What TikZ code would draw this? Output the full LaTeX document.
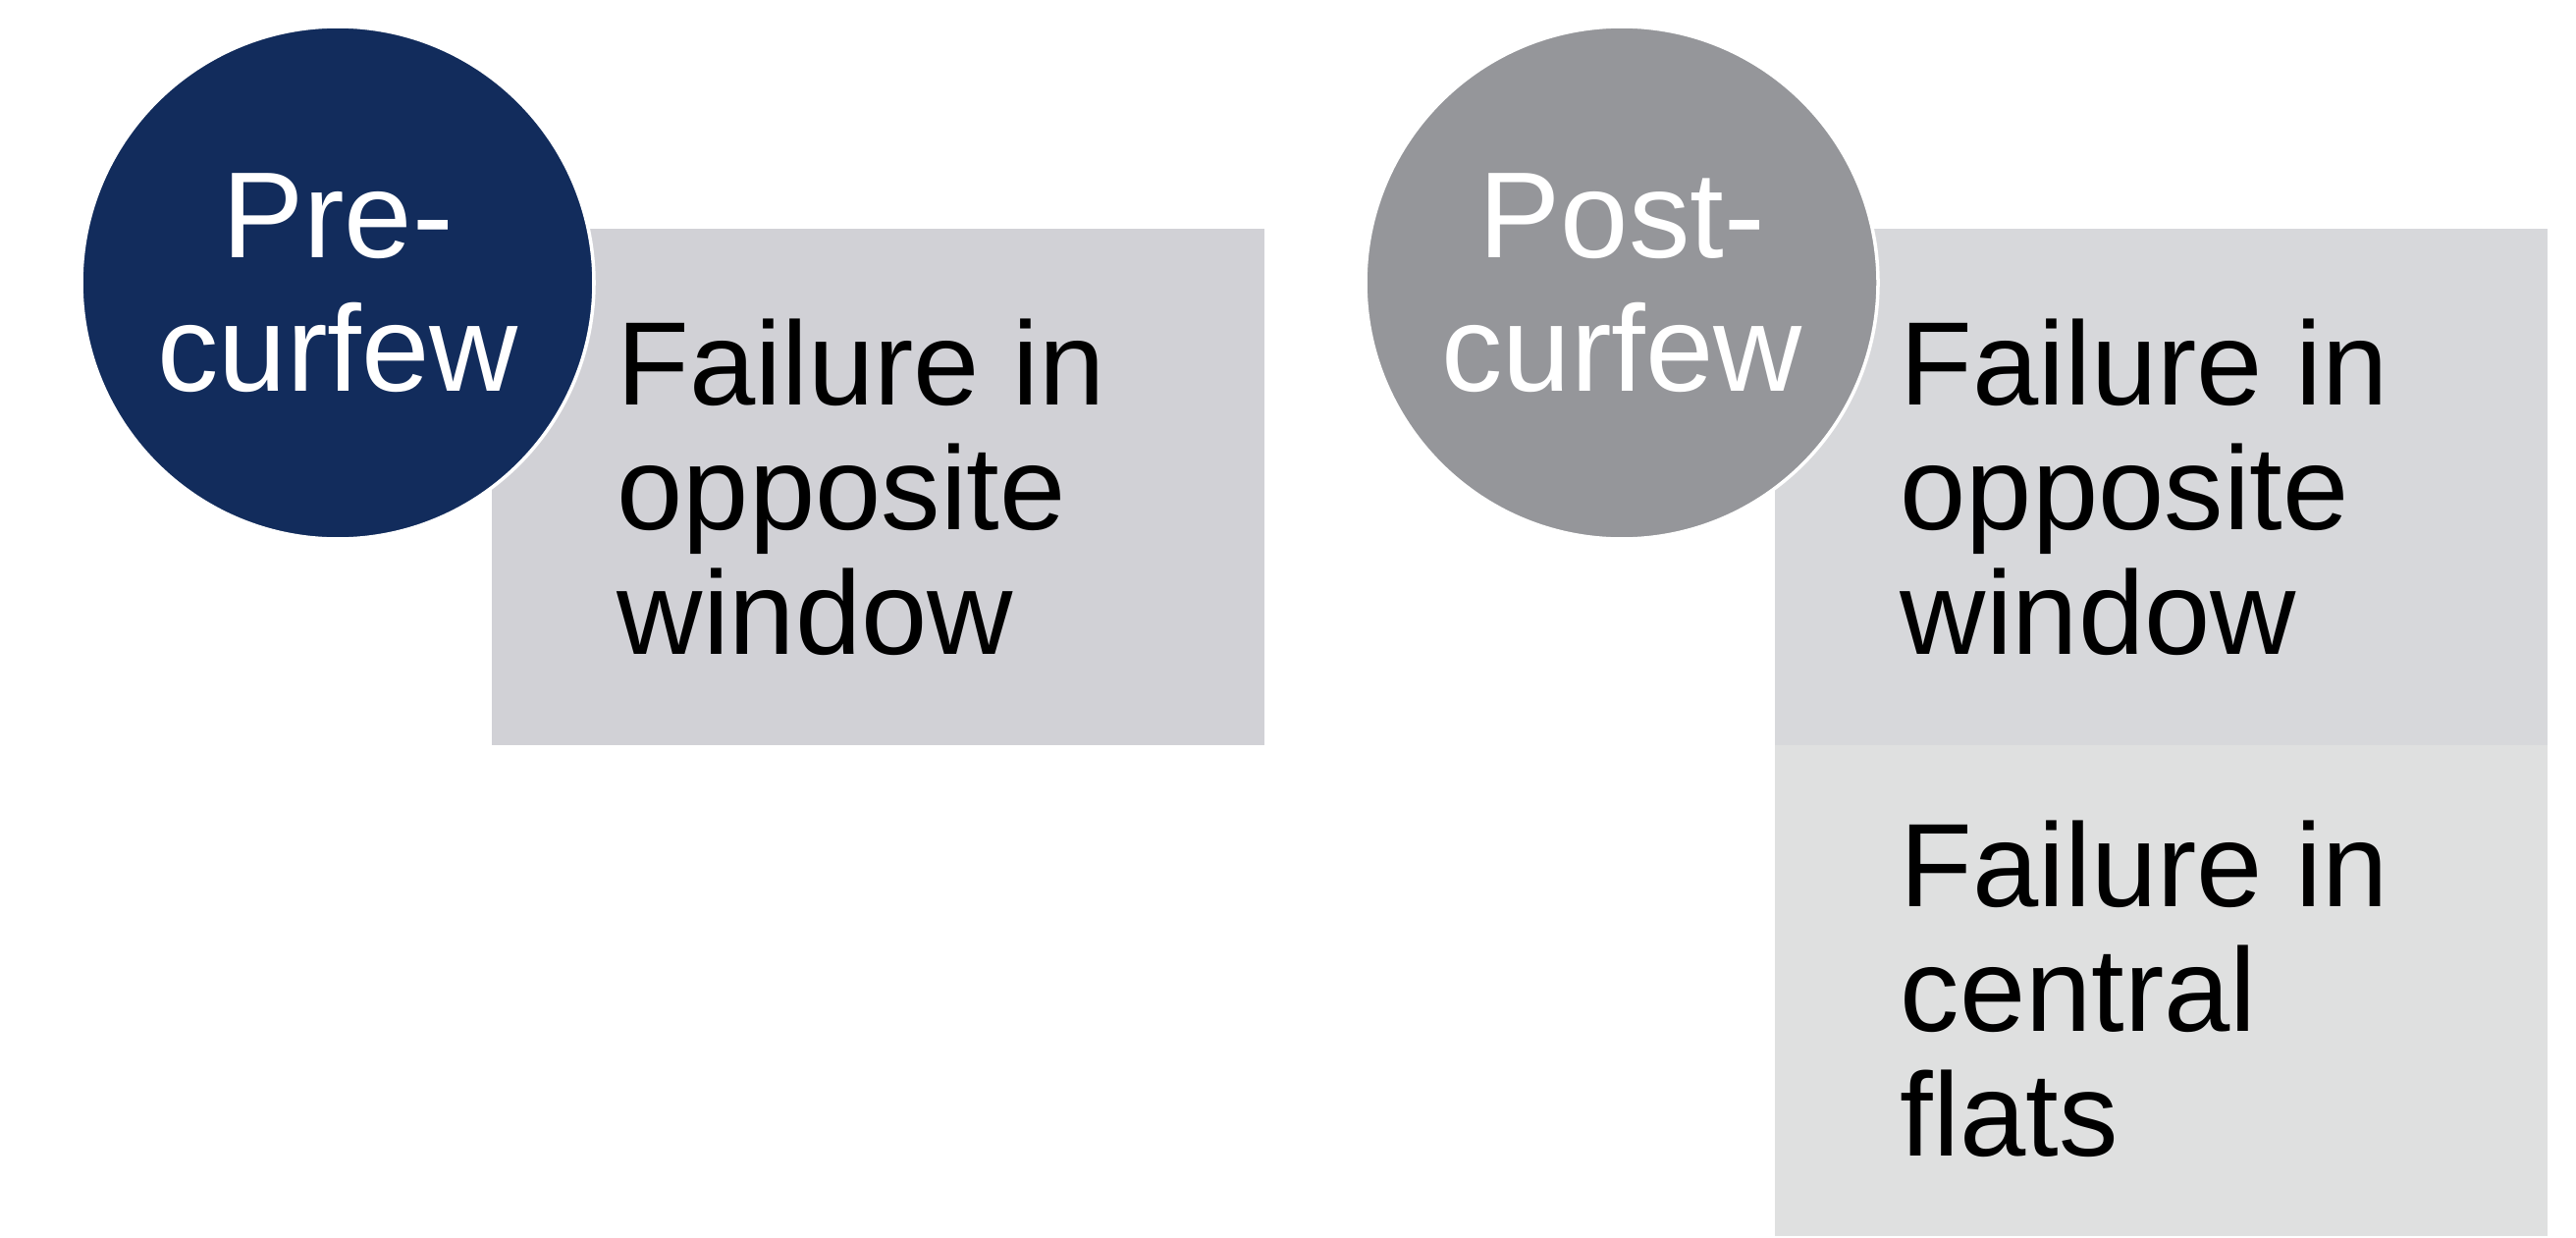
\documentclass[tikz,border=0pt]{standalone}
\usepackage{fontspec}
\setmainfont{Liberation Sans}
\usetikzlibrary{positioning}
\definecolor{curfewnavy}{RGB}{18,44,92}
\definecolor{curfewgray}{RGB}{149,150,154}
\definecolor{boxgray}{RGB}{209,209,214}
\definecolor{boxgraylight}{RGB}{215,216,219}
\definecolor{boxgraypale}{RGB}{223,224,224}
\tikzset{
  phase/.style={circle, draw=white, line width=1pt, minimum size=5.22cm, inner sep=0pt,
    text=white, align=center, font=\fontsize{35.5}{38.7}\selectfont},
  failbox/.style={rectangle, minimum width=7.87cm, minimum height=5.26cm, inner sep=0pt},
  failtext/.style={inner sep=0pt, align=left, font=\fontsize{34.4}{36.1}\selectfont},
}

\begin{document}
\begin{tikzpicture}
\useasboundingbox (0,0) rectangle (26.24,12.60);
% Grey boxes behind the circles
\node[failbox, fill=boxgraypale, minimum height=5.04cm, anchor=south west] (postBoxB) at (18.07,0) {};
\node[failbox, fill=boxgray, anchor=south west] (preBox) at (5.00,5.00) {};
\node[failbox, fill=boxgraylight, anchor=south west] (postBox) at (18.07,5.00) {};
% Phase circles
\node[phase, fill=curfewnavy] (pre) at (3.44,9.72) {Pre-\\curfew};
\node[phase, fill=curfewgray] (post) at (16.52,9.72) {Post-\\curfew};
% Box texts
\node[failtext, right=1.28cm of preBox.west] (preFail) {Failure in\\opposite\\window};
\node[failtext, right=1.28cm of postBox.west] (postFail) {Failure in\\opposite\\window};
\node[failtext, right=1.28cm of postBoxB.west] (postFailB) {Failure in\\central\\flats};
\end{tikzpicture}
\end{document}
